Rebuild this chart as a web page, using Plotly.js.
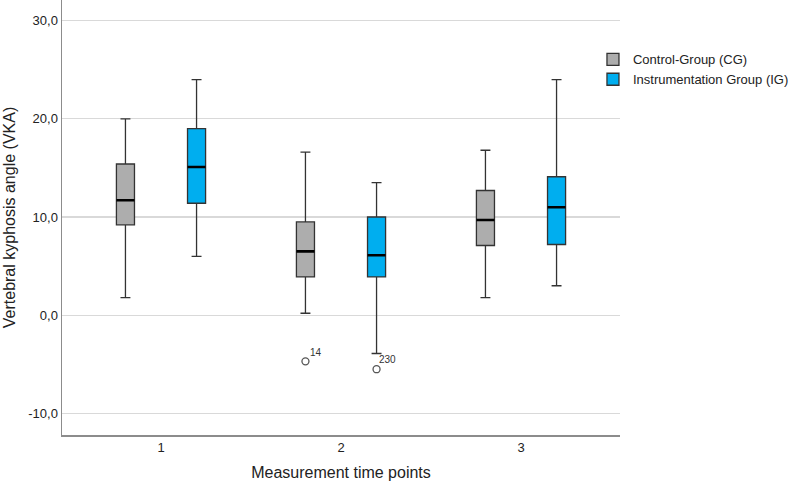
<!DOCTYPE html>
<html><head><meta charset="utf-8">
<script src="https://cdn.plot.ly/plotly-3.0.1.min.js"></script>
<style>html,body{margin:0;padding:0;background:#fff}#chart{width:797px;height:488px}</style>
</head><body><div id="chart"></div>
<script>
var categories = ['1', '2', '3'];
var seriesNames = ['Control-Group (CG)', 'Instrumentation Group (IG)'];
var cgQ1 = [9.2, 3.9, 7.1];
var cgMedian = [11.7, 6.5, 9.7];
var cgQ3 = [15.4, 9.5, 12.7];
var cgLow = [1.8, 0.2, 1.8];
var cgHigh = [20.0, 16.6, 16.8];
var cgOutliers = [null, -4.7, null];
var cgOutlierIds = ['', '14', ''];
var igQ1 = [11.4, 3.9, 7.2];
var igMedian = [15.1, 6.1, 11.0];
var igQ3 = [19.0, 10.0, 14.1];
var igLow = [6.0, -3.9, 3.0];
var igHigh = [24.0, 13.5, 24.0];
var igOutliers = [null, -5.5, null];
var igOutlierIds = ['', '230', ''];
var yTickVals = [-10, 0, 10, 20, 30];
var yTickText = ['-10,0', '0,0', '10,0', '20,0', '30,0'];

var font = 'Liberation Sans, Arial, sans-serif';
var BOXGAP = 0.21, BOXGROUPGAP = 0.746;
var XRANGE = [-0.55, 2.55];
var slotOffset = (1 - BOXGAP) / 4;

function boxTrace(name, q1, med, q3, lo, hi, fill, grp) {
  return {
    type: 'box', name: name, x: categories,
    q1: q1, median: med, q3: q3, lowerfence: lo, upperfence: hi,
    boxpoints: false, offsetgroup: grp, alignmentgroup: 'a',
    fillcolor: fill, whiskerwidth: 0.55,
    line: {color: '#333333', width: 1.3}, hoverinfo: 'skip'
  };
}
function medianTrace(med, grp) {
  return {
    type: 'box', x: categories, q1: med, median: med, q3: med, lowerfence: med, upperfence: med,
    offsetgroup: grp, alignmentgroup: 'a', showlegend: false, hoverinfo: 'skip', boxpoints: false,
    fillcolor: 'rgba(0,0,0,0)', whiskerwidth: 0, line: {color: '#000000', width: 2.6}
  };
}
function outlierTrace(vals, sign) {
  var xs = [], ys = [];
  vals.forEach(function (v, i) { if (v !== null) { xs.push(i + sign * slotOffset); ys.push(v); } });
  return {
    type: 'scatter', mode: 'markers', x: xs, y: ys, xaxis: 'x2', yaxis: 'y',
    showlegend: false, hoverinfo: 'skip',
    marker: {symbol: 'circle-open', size: 7, color: '#555555', line: {width: 1.3, color: '#555555'}}
  };
}
var traces = [
  boxTrace(seriesNames[0], cgQ1, cgMedian, cgQ3, cgLow, cgHigh, '#ADADAD', 'cg'),
  boxTrace(seriesNames[1], igQ1, igMedian, igQ3, igLow, igHigh, '#00AEEF', 'ig'),
  medianTrace(cgMedian, 'cg'),
  medianTrace(igMedian, 'ig'),
  outlierTrace(cgOutliers, -1),
  outlierTrace(igOutliers, 1)
];

var annotations = [];
categories.forEach(function (c, i) {
  if (cgOutlierIds[i]) annotations.push({xref: 'x2', yref: 'y', x: i - slotOffset, y: cgOutliers[i], text: cgOutlierIds[i],
    showarrow: false, xshift: 11, yshift: 9, font: {family: font, size: 10, color: '#333'}});
  if (igOutlierIds[i]) annotations.push({xref: 'x2', yref: 'y', x: i + slotOffset, y: igOutliers[i], text: igOutlierIds[i],
    showarrow: false, xshift: 11, yshift: 10, font: {family: font, size: 10, color: '#333'}});
});

var layout = {
  width: 797, height: 488,
  margin: {l: 62, r: 177, t: 0, b: 53, autoexpand: false},
  paper_bgcolor: '#ffffff', plot_bgcolor: '#ffffff',
  font: {family: font, size: 13, color: '#222222'},
  boxmode: 'group', boxgap: BOXGAP, boxgroupgap: BOXGROUPGAP,
  xaxis: {
    type: 'category', range: XRANGE, showgrid: false, zeroline: false,
    showline: true, linecolor: '#8c8c8c', linewidth: 1.5, ticks: '',
    tickfont: {family: font, size: 13, color: '#222'},
    title: {text: 'Measurement time points', font: {family: font, size: 16, color: '#222'}, standoff: 12}
  },
  xaxis2: {overlaying: 'x', range: XRANGE, visible: false, showgrid: false, zeroline: false},
  yaxis: {
    range: [-12.2, 32.1], tickvals: yTickVals, ticktext: yTickText,
    showgrid: true, gridcolor: '#d9d9d9', gridwidth: 1.2, zeroline: false,
    showline: true, linecolor: '#8c8c8c', linewidth: 1.5, ticks: '',
    tickfont: {family: font, size: 13, color: '#222'},
    title: {text: 'Vertebral kyphosis angle (VKA)', font: {family: font, size: 16, color: '#222'}, standoff: 8}
  },
  showlegend: true,
  legend: {xref: 'container', yref: 'container', x: 0.744, xanchor: 'left', y: 0.909, yanchor: 'top',
    font: {family: font, size: 13, color: '#222'},
    itemwidth: 30, tracegroupgap: 0, bgcolor: 'rgba(0,0,0,0)'},
  annotations: annotations
};
Plotly.newPlot('chart', traces, layout, {displayModeBar: false, staticPlot: true});
</script></body></html>
